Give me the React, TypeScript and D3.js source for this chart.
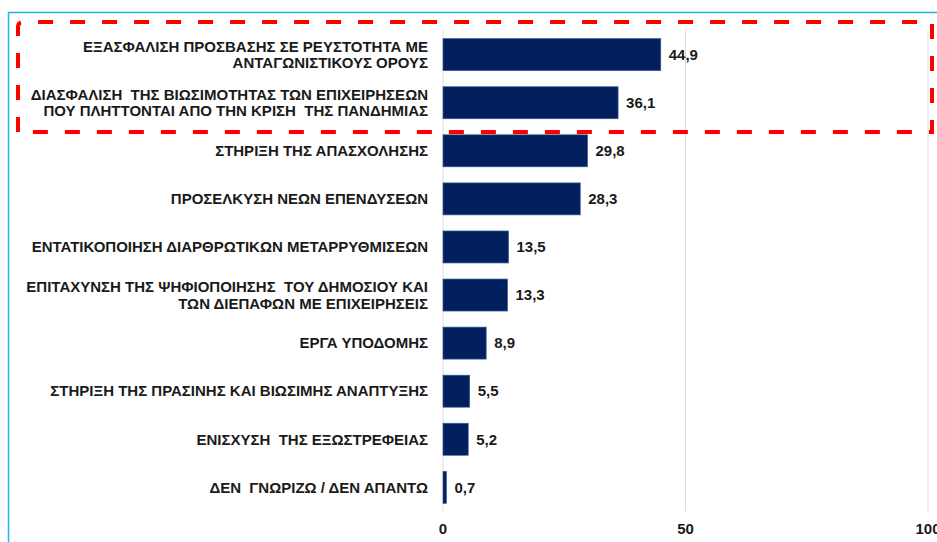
import React from "react";
import * as d3 from "d3";

const categories: string[][] = [
  ["ΕΞΑΣΦΑΛΙΣΗ ΠΡΟΣΒΑΣΗΣ ΣΕ ΡΕΥΣΤΟΤΗΤΑ ΜΕ", "ΑΝΤΑΓΩΝΙΣΤΙΚΟΥΣ ΟΡΟΥΣ"],
  ["ΔΙΑΣΦΑΛΙΣΗ  ΤΗΣ ΒΙΩΣΙΜΟΤΗΤΑΣ ΤΩΝ ΕΠΙΧΕΙΡΗΣΕΩΝ", "ΠΟΥ ΠΛΗΤΤΟΝΤΑΙ ΑΠΟ ΤΗΝ ΚΡΙΣΗ  ΤΗΣ ΠΑΝΔΗΜΙΑΣ"],
  ["ΣΤΗΡΙΞΗ ΤΗΣ ΑΠΑΣΧΟΛΗΣΗΣ"],
  ["ΠΡΟΣΕΛΚΥΣΗ ΝΕΩΝ ΕΠΕΝΔΥΣΕΩΝ"],
  ["ΕΝΤΑΤΙΚΟΠΟΙΗΣΗ ΔΙΑΡΘΡΩΤΙΚΩΝ ΜΕΤΑΡΡΥΘΜΙΣΕΩΝ"],
  ["ΕΠΙΤΑΧΥΝΣΗ ΤΗΣ ΨΗΦΙΟΠΟΙΗΣΗΣ  ΤΟΥ ΔΗΜΟΣΙΟΥ ΚΑΙ", "ΤΩΝ ΔΙΕΠΑΦΩΝ ΜΕ ΕΠΙΧΕΙΡΗΣΕΙΣ"],
  ["ΕΡΓΑ ΥΠΟΔΟΜΗΣ"],
  ["ΣΤΗΡΙΞΗ ΤΗΣ ΠΡΑΣΙΝΗΣ ΚΑΙ ΒΙΩΣΙΜΗΣ ΑΝΑΠΤΥΞΗΣ"],
  ["ΕΝΙΣΧΥΣΗ  ΤΗΣ ΕΞΩΣΤΡΕΦΕΙΑΣ"],
  ["ΔΕΝ  ΓΝΩΡΙΖΩ / ΔΕΝ ΑΠΑΝΤΩ"],
];
const values: number[] = [44.9, 36.1, 29.8, 28.3, 13.5, 13.3, 8.9, 5.5, 5.2, 0.7];
const ticks: number[] = [0, 50, 100];

const W = 937;
const H = 542;
const FONT = "'Liberation Sans', Arial, sans-serif";

export default function App() {
  const x = d3.scaleLinear().domain([0, 100]).range([443, 928]);
  const ids = categories.map((_, i) => String(i));
  const y = d3.scaleBand().domain(ids).range([30.5, 511.5]).paddingInner(0.335).paddingOuter(0.17);
  const fmt = (v: number) => d3.format(".1f")(v).replace(".", ",");

  return (
    <svg
      width={W}
      height={H}
      style={{ position: "absolute", left: 0, top: 0, background: "#fff" }}
      fontFamily={FONT}
    >
      {/* outer light-blue frame */}
      <line x1={8} y1={12.5} x2={W} y2={12.5} stroke="#1fb3ee" strokeWidth={1.5} />
      <line x1={8.5} y1={12} x2={8.5} y2={H} stroke="#1fb3ee" strokeWidth={1.5} />

      {/* gridlines */}
      {ticks.map((t) => (
        <line key={t} x1={x(t)} x2={x(t)} y1={30} y2={511} stroke="#dcdce6" strokeWidth={1} />
      ))}

      {/* bars */}
      {values.map((v, i) => (
        <rect
          key={i}
          x={x(0)}
          y={y(String(i))!}
          width={x(v) - x(0)}
          height={y.bandwidth()}
          fill="#02205e"
          stroke="#3a5896"
          strokeWidth={0.7}
        />
      ))}

      {/* value labels */}
      {values.map((v, i) => (
        <text
          key={i}
          x={x(v) + 8}
          y={y(String(i))! + y.bandwidth() / 2}
          dy="0.35em"
          fontSize={15}
          fontWeight="bold"
          fill="#1a1a1a"
        >
          {fmt(v)}
        </text>
      ))}

      {/* category labels */}
      {categories.map((lines, i) => {
        const cy = y(String(i))! + y.bandwidth() / 2;
        const lh = 16.5;
        const start = cy - ((lines.length - 1) * lh) / 2;
        return (
          <text key={i} textAnchor="end" fontSize={15} fontWeight="bold" fill="#1a1a1a" style={{ whiteSpace: "pre" }}>
            {lines.map((l, j) => (
              <tspan key={j} x={428} y={start + j * lh} dy="0.35em">
                {l}
              </tspan>
            ))}
          </text>
        );
      })}

      {/* x tick labels */}
      {ticks.map((t) => (
        <text key={t} x={x(t)} y={529} dy="0.35em" textAnchor="middle" fontSize={15} fontWeight="bold" fill="#1a1a1a">
          {t}
        </text>
      ))}

      {/* red dashed highlight */}
      <path
        d={`M18,132 L18,27 Q18,22 23,22 L932,22 L932,132 Z`}
        fill="none"
        stroke="#ff0000"
        strokeWidth={4}
        strokeDasharray="15 17"
      />
    </svg>
  );
}
